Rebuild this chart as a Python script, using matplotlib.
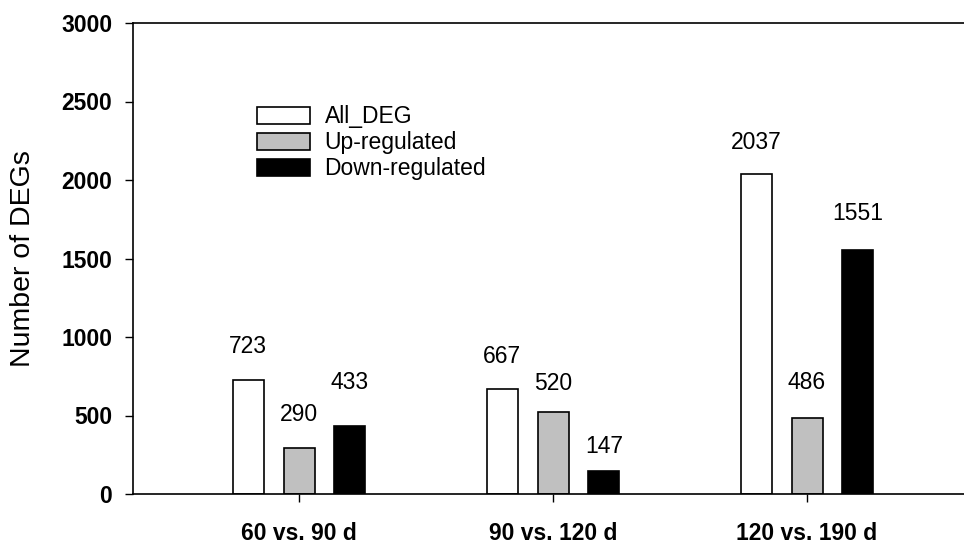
#!/usr/bin/env python3
# -*- coding: utf-8 -*-
import numpy as np
import matplotlib
matplotlib.use("Agg")
import matplotlib.pyplot as plt

# number of DEGs per comparison
groups = ["60 vs. 90 d", "90 vs. 120 d", "120 vs. 190 d"]
all_deg = [723, 667, 2037]
up_reg = [290, 520, 486]
down_reg = [433, 147, 1551]
series_names = ["All_DEG", "Up-regulated", "Down-regulated"]
yticks = [0, 500, 1000, 1500, 2000, 2500, 3000]

# label offsets above each bar (points), placed by hand in the original
# rows = groups, columns = series
label_pad = [[20, 20, 27], [19, 16, 13], [18, 21, 22]]

plt.rcParams['font.family'] = ['Liberation Sans', 'DejaVu Sans']

if __name__ == "__main__":
    fig = plt.figure(figsize=(9.64, 5.43), dpi=100)
    ax = fig.add_axes([133/964, 1-494/543, 1-133/964, (494-23)/543])

    x = np.arange(len(groups))
    w = 0.122
    off = 0.2
    colors = ["white", "#c0c0c0", "black"]
    data = [all_deg, up_reg, down_reg]
    for i, vals in enumerate(data):
        bars = ax.bar(x + (i-1)*off, vals, w, color=colors[i],
                      edgecolor="black", linewidth=1.2, label=series_names[i])
        for j, b in enumerate(bars):
            ax.annotate(str(vals[j]), (b.get_x() + b.get_width()/2, b.get_height()),
                        xytext=(0, label_pad[j][i]), textcoords="offset points",
                        ha="center", va="baseline", fontsize=16.5)

    ax.set_xlim(-0.654, 2.618)
    ax.set_ylim(0, 3000)
    ax.set_yticks(yticks)
    ax.set_xticks(x)
    ax.set_xticklabels(groups, fontweight="bold", fontsize=16.5)
    for t in ax.get_yticklabels():
        t.set_fontweight("bold")
        t.set_fontsize(16.5)
    ax.tick_params(axis="y", direction="out", length=6, width=1, pad=9)
    ax.tick_params(axis="x", direction="out", length=6, width=1, pad=14)
    ax.spines["right"].set_visible(False)
    for s in ["left", "top", "bottom"]:
        ax.spines[s].set_linewidth(1.2)
    ax.set_ylabel("Number of DEGs", fontsize=20.5, labelpad=18)

    ax.legend(loc="upper left", bbox_to_anchor=(257/964, 1-105.5/543),
              bbox_transform=fig.transFigure, frameon=False, fontsize=16.5,
              handlelength=2.3, handleheight=0.75, handletextpad=0.65,
              labelspacing=0.13, borderpad=0, borderaxespad=0)

    fig.savefig("out.png", dpi=100)
